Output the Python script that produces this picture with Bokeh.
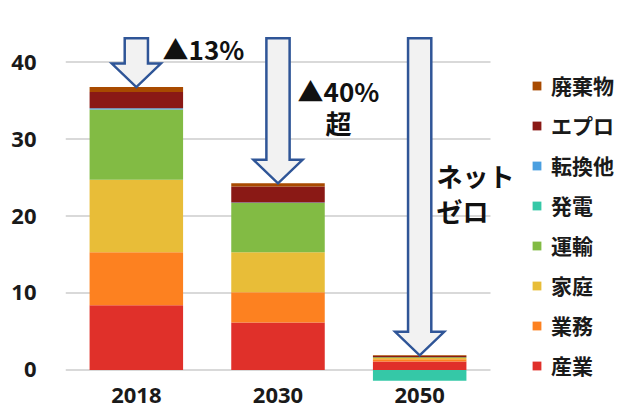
import numpy as np
from bokeh.plotting import figure
from bokeh.models import Range1d, FixedTicker, Legend, LegendItem, Label
from bokeh.embed import file_html
from bokeh.resources import INLINE

# ---- data ----
years = ["2018", "2030", "2050"]
sectors = ["産業", "業務", "家庭", "運輸", "発電", "転換他", "エプロ", "廃棄物"]
colors = ["#e0302a", "#fd8120", "#e8bd38", "#82bb44", "#35c8a7", "#4a9fe0", "#8a1915", "#a84a00"]
sangyo = [8.4, 6.15, 1.1]
gyomu = [6.9, 3.95, 0.3]
katei = [9.4, 5.2, 0.15]
unyu = [9.15, 6.4, 0.1]
hatsuden = [0.0, 0.0, -1.4]
tenkan = [0.15, 0.05, 0.0]
epuro = [2.1, 2.1, 0.15]
haiki = [0.65, 0.4, 0.1]
series = [sangyo, gyomu, katei, unyu, hatsuden, tenkan, epuro, haiki]
yticks = [0, 10, 20, 30, 40]

notes = ["▲13%", "▲40%", "超", "ネット", "ゼロ"]

# ---- figure ----
W, H = 619, 413
left, bot = 65, 32
cat_px = 141.67
p = figure(width=W, height=H, output_backend="svg", toolbar_location=None,
           x_range=Range1d(0, (W - left) / cat_px), y_range=Range1d(-1.5, 48.0),
           min_border_left=left, min_border_right=0, min_border_top=0,
           min_border_bottom=bot)
p.outline_line_color = None
p.background_fill_color = "white"

n = len(years)
x = np.arange(n) + 0.5

# horizontal gridlines over the category area only
p.segment(x0=[0] * len(yticks), x1=[n] * len(yticks), y0=yticks, y1=yticks,
          line_color="#d9d9d9", line_width=2)

pos_base = np.zeros(n)
neg_base = np.zeros(n)
items = []
for name, col, vals in zip(sectors, colors, series):
    v = np.array(vals, dtype=float)
    bottom = np.where(v >= 0, pos_base, neg_base + v)
    top = np.where(v >= 0, pos_base + v, neg_base)
    pos_base = pos_base + np.where(v >= 0, v, 0)
    neg_base = neg_base + np.where(v < 0, v, 0)
    r = p.vbar(x=x, bottom=bottom, top=top, width=0.66, fill_color=col, line_color=None)
    items.append(LegendItem(label=name, renderers=[r]))

# arrows pointing at the stack tops
totals = pos_base
shaft_top = 43.1
head_h = 3.05
sw, hw = 0.082, 0.173
xs, ys = [], []
for cx, tip in zip(x, totals):
    xs.append([cx - sw, cx + sw, cx + sw, cx + hw, cx, cx - hw, cx - sw])
    ys.append([shaft_top, shaft_top, tip + head_h, tip + head_h, tip, tip + head_h, tip + head_h])
p.patches(xs, ys, fill_color="#f2f2f2", line_color="#2f5597", line_width=2.5, line_join="miter")

# annotation texts
note_pos = [(0.685, 41.75, "left"), (1.638, 36.3, "left"), (1.927, 32.1, "center"),
            (2.619, 25.3, "left"), (2.619, 20.7, "left")]
for t, (lx, ly, al) in zip(notes, note_pos):
    p.add_layout(Label(x=lx, y=ly, text=t, text_font="Noto Sans CJK JP", text_font_style="bold",
                       text_font_size="26px", text_baseline="middle", text_align=al,
                       text_color="#111111"))

# axes
p.yaxis.ticker = FixedTicker(ticks=yticks)
p.xaxis.ticker = FixedTicker(ticks=list(x))
p.xaxis.major_label_overrides = {float(xx): y for xx, y in zip(x, years)}
for ax in (p.xaxis[0], p.yaxis[0]):
    ax.axis_line_color = None
    ax.major_tick_line_color = None
    ax.minor_tick_line_color = None
    ax.major_label_text_font = "Noto Sans"
    ax.major_label_text_font_style = "bold"
    ax.major_label_text_font_size = "22px"
    ax.major_label_text_color = "#1a1a1a"
p.yaxis.major_label_standoff = 23
p.xaxis.major_label_standoff = 0
p.xgrid.grid_line_color = None
p.ygrid.grid_line_color = None

legend = Legend(items=list(reversed(items)), location=(466, 1), padding=0, margin=0,
                spacing=10, label_height=29, glyph_height=11, glyph_width=11,
                label_standoff=9, label_text_font="Noto Sans CJK JP",
                label_text_font_style="bold",
                label_text_font_size="21px", label_text_color="#1a1a1a",
                background_fill_alpha=0, border_line_color=None)
p.add_layout(legend, "center")

open("out.html", "w").write(file_html(p, INLINE))
